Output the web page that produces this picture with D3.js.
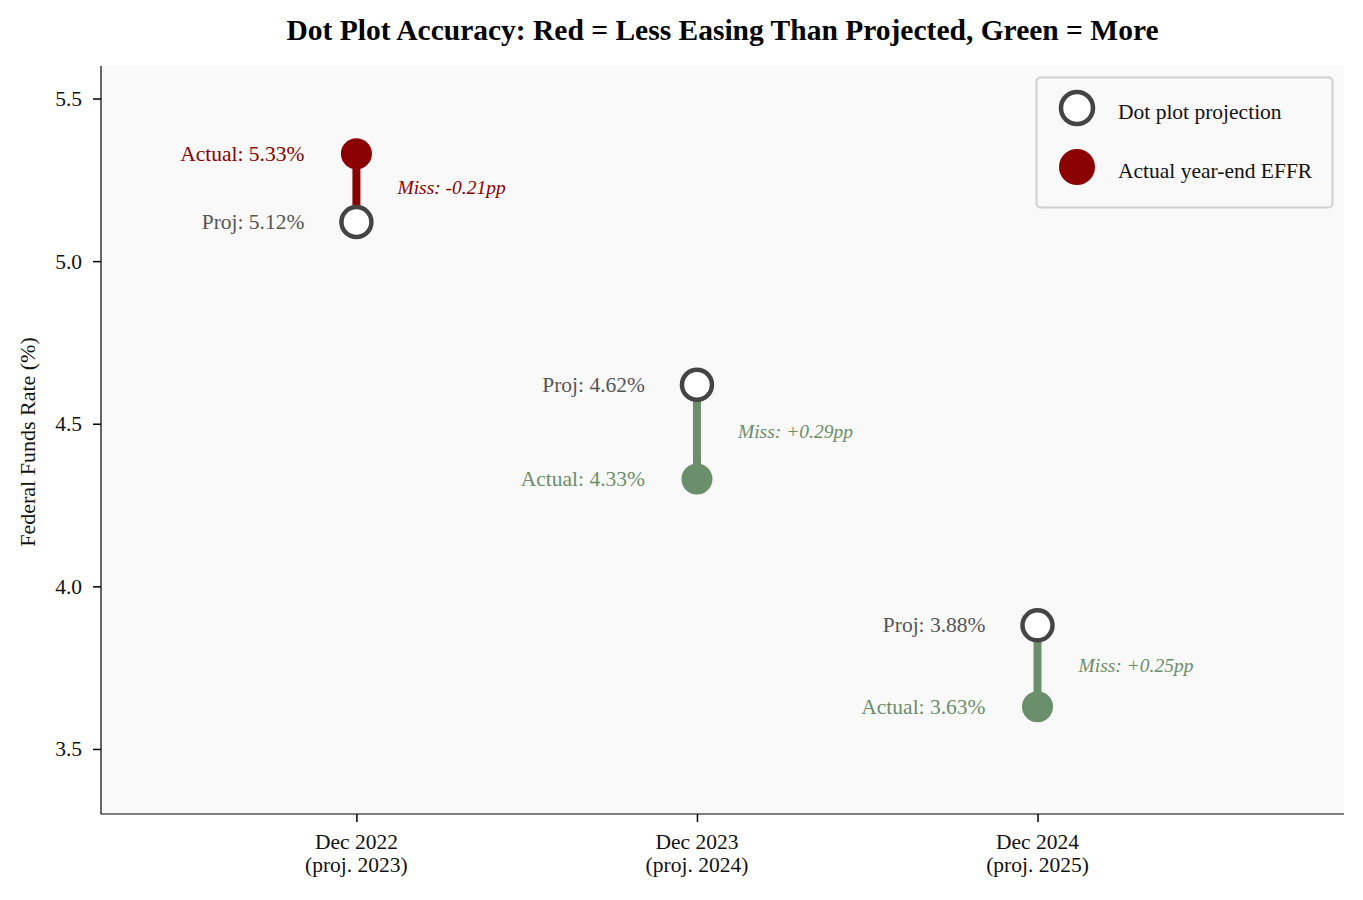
<!DOCTYPE html>
<html><head><meta charset="utf-8">
<script src="https://cdn.jsdelivr.net/npm/d3@7"></script>
<style>
body{margin:0;background:#fff;}
text{font-family:"Liberation Serif","DejaVu Serif",serif;}
</style></head>
<body><svg id="chart" width="1363" height="900"></svg>
<script>
const categories = ["Dec 2022\n(proj. 2023)", "Dec 2023\n(proj. 2024)", "Dec 2024\n(proj. 2025)"];
const projected = [5.12, 4.62, 3.88];
const actual = [5.33, 4.33, 3.63];
const yTicks = [3.5, 4.0, 4.5, 5.0, 5.5];

const RED = "#8b0000", GREEN = "#6b8e6b", GRAY = "#444444";
const svg = d3.select("#chart");
const L = 101, R = 1344, T = 66, B = 814;
const x = d3.scaleLinear().domain([-0.75, 2.9]).range([L, R]);
const y = d3.scaleLinear().domain([3.3, 5.6]).range([B, T]);

svg.append("rect").attr("x", L).attr("y", T).attr("width", R - L).attr("height", B - T).attr("fill", "#f9f9f9");

// axes
const ya = svg.append("g").attr("transform", `translate(${L},0)`)
  .call(d3.axisLeft(y).tickValues(yTicks).tickFormat(d3.format(".1f")).tickSize(8).tickPadding(11));
ya.select(".domain").attr("stroke", "#000").attr("stroke-width", 1.2).attr("d", `M0,${T}V${B}`);
ya.selectAll(".tick line").attr("stroke", "#000").attr("stroke-width", 1.5);
ya.selectAll(".tick text").attr("font-size", 21.5).attr("fill", "#111").attr("font-family", "Liberation Serif");

const xa = svg.append("g").attr("transform", `translate(0,${B})`)
  .call(d3.axisBottom(x).tickValues(d3.range(categories.length)).tickFormat("").tickSize(8));
xa.select(".domain").attr("stroke", "#000").attr("stroke-width", 1.2).attr("d", `M${L},0H${R}`);
xa.selectAll(".tick line").attr("stroke", "#000").attr("stroke-width", 1.5);
categories.forEach((c, i) => {
  const t = svg.append("text").attr("x", x(i)).attr("y", B + 35).attr("text-anchor", "middle")
    .attr("font-size", 21.5).attr("fill", "#111");
  c.split("\n").forEach((ln, j) => t.append("tspan").attr("x", x(i)).attr("dy", j ? 23 : 0).text(ln));
});

// y label
svg.append("text").attr("transform", `translate(35,${(T + B) / 2 + 2}) rotate(-90)`).attr("text-anchor", "middle")
  .attr("font-size", 22).attr("fill", "#111").text("Federal Funds Rate (%)");

// title
svg.append("text").attr("x", (L + R) / 2).attr("y", 40).attr("text-anchor", "middle")
  .attr("font-size", 29.5).attr("font-weight", "bold").attr("fill", "#000")
  .text("Dot Plot Accuracy: Red = Less Easing Than Projected, Green = More");

// marks
categories.forEach((c, i) => {
  const p = projected[i], a = actual[i];
  const miss = p - a;
  const col = a > p ? RED : GREEN;
  const cx = x(i);
  svg.append("line").attr("x1", cx).attr("x2", cx).attr("y1", y(p)).attr("y2", y(a))
    .attr("stroke", col).attr("stroke-width", 8);
  svg.append("circle").attr("cx", cx).attr("cy", y(a)).attr("r", 15.5).attr("fill", col);
  svg.append("circle").attr("cx", cx).attr("cy", y(p)).attr("r", 15).attr("fill", "#fff")
    .attr("stroke", GRAY).attr("stroke-width", 4.5);
  svg.append("text").attr("x", cx - 52).attr("y", y(a)).attr("dy", "0.33em").attr("text-anchor", "end")
    .attr("font-size", 21.5).attr("fill", col).text(`Actual: ${a.toFixed(2)}%`);
  svg.append("text").attr("x", cx - 52).attr("y", y(p)).attr("dy", "0.33em").attr("text-anchor", "end")
    .attr("font-size", 21.5).attr("fill", "#555").text(`Proj: ${p.toFixed(2)}%`);
  svg.append("text").attr("x", cx + 41).attr("y", y((p + a) / 2)).attr("dy", "0.33em")
    .attr("font-size", 19.5).attr("font-style", "italic").attr("fill", col)
    .text(`Miss: ${miss >= 0 ? "+" : ""}${miss.toFixed(2)}pp`);
});

// legend
const lg = svg.append("g");
lg.append("rect").attr("x", 1036.5).attr("y", 77.5).attr("width", 296).attr("height", 130).attr("rx", 4)
  .attr("fill", "#f9f9f9").attr("stroke", "#cfcfcf").attr("stroke-width", 2);
lg.append("circle").attr("cx", 1077).attr("cy", 108).attr("r", 16).attr("fill", "#fff").attr("stroke", GRAY).attr("stroke-width", 4.5);
lg.append("circle").attr("cx", 1077).attr("cy", 167).attr("r", 18).attr("fill", RED);
lg.append("text").attr("x", 1118).attr("y", 113).attr("dy", "0.3em").attr("font-size", 21.5).attr("fill", "#111").text("Dot plot projection");
lg.append("text").attr("x", 1118).attr("y", 172).attr("dy", "0.3em").attr("font-size", 21.5).attr("fill", "#111").text("Actual year-end EFFR");
</script></body></html>
